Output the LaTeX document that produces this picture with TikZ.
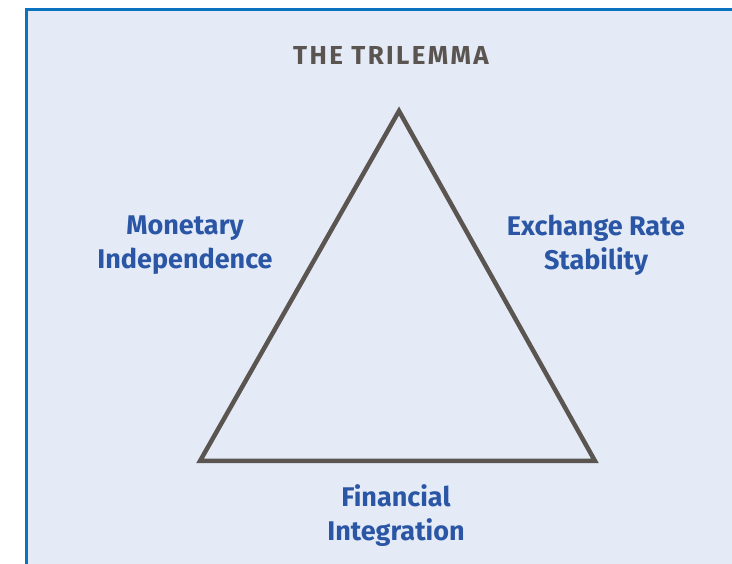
\documentclass[tikz,border=0pt]{standalone}
\usepackage{fontspec}
\setmainfont{Fira Sans}
\usetikzlibrary{positioning}
\definecolor{boxfill}{HTML}{E4EBF6}
\definecolor{boxline}{HTML}{0A72BE}
\definecolor{trigray}{HTML}{5A5550}
\definecolor{labelblue}{HTML}{2A56A5}
\tikzset{
	label text/.style={text=labelblue, font=\fontsize{27}{34}\selectfont\bfseries, align=center, inner sep=0pt},
	title text/.style={text=trigray, font=\fontsize{26}{30}\selectfont\bfseries\addfontfeatures{LetterSpace=9}, inner sep=0pt}
}
\begin{document}
\begin{tikzpicture}[x=1pt, y=-1pt]
	\useasboundingbox (0,0) rectangle (732,564);
	% Draw the panel
	\draw [boxline, line width=3pt, fill=boxfill] (26,10) rectangle (745,580);
	% Title
	\node [title text] at (391,55) (title) {THE TRILEMMA};
	% Corners of the triangle
	\coordinate (top) at (399,111);
	\coordinate (left) at (200,461);
	\coordinate (right) at (595,461);
	\draw [trigray, line width=4.5pt, line join=miter] (top) -- (right) -- (left) -- cycle;
	% Labels on the sides
	\node [label text] at (185,245) (monetary) {Monetary\\Independence};
	\node [label text] at (596,245) (exchange) {Exchange Rate\\Stability};
	\node [label text] at (396,516) (financial) {Financial\\Integration};
\end{tikzpicture}
\end{document}
